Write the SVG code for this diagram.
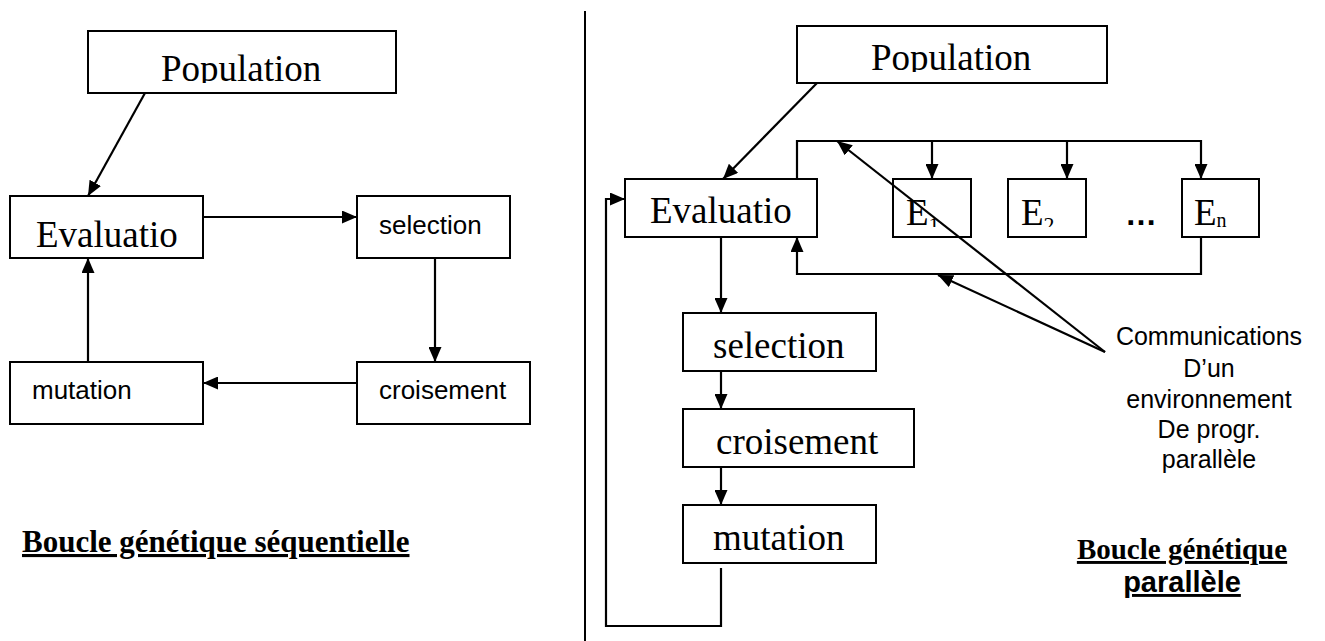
<svg xmlns="http://www.w3.org/2000/svg" width="1325" height="641" viewBox="0 0 1325 641">
  <defs>
    <marker id="arrow" viewBox="0 0 15 13" refX="15" refY="6.5" markerWidth="15" markerHeight="13" markerUnits="userSpaceOnUse" orient="auto">
      <path d="M0,0 L15,6.5 L0,13 Z" fill="#000"/>
    </marker>
    <clipPath id="clipPopL"><rect x="88" y="31" width="308" height="52"/></clipPath>
    <clipPath id="clipPopR"><rect x="797" y="26" width="310" height="46"/></clipPath>
    <clipPath id="clipE"><rect x="0" y="179" width="1325" height="48"/></clipPath>
    <style>
      .box { fill: #fff; stroke: #000; stroke-width: 2; }
      .wire { fill: none; stroke: #000; stroke-width: 2.2; }
      .serif { font-family: "Liberation Serif", "Times New Roman", serif; fill: #000; }
      .sans { font-family: "Liberation Sans", Arial, sans-serif; fill: #000; }
      .big { font-size: 37px; }
      .mid { font-size: 26px; }
      .note { font-size: 25px; text-anchor: middle; }
      .title { font-weight: bold; text-decoration: underline; }
    </style>
  </defs>
  <rect width="1325" height="641" fill="#fff"/>

  <!-- separator between the two loops -->
  <line x1="585" y1="11" x2="585" y2="641" stroke="#000" stroke-width="2"/>

  <!-- ===== sequential loop ===== -->
  <g id="seq-population">
    <rect class="box" x="88" y="31" width="308" height="62"/>
    <text class="serif big" x="161" y="81" clip-path="url(#clipPopL)">Population</text>
  </g>
  <g id="seq-evaluation">
    <rect class="box" x="10" y="196" width="193" height="62"/>
    <text class="serif big" x="36" y="247">Evaluatio</text>
  </g>
  <g id="seq-selection">
    <rect class="box" x="357" y="196" width="153" height="62"/>
    <text class="sans mid" x="379" y="234">selection</text>
  </g>
  <g id="seq-croisement">
    <rect class="box" x="357" y="362" width="173" height="62"/>
    <text class="sans mid" x="379" y="399">croisement</text>
  </g>
  <g id="seq-mutation">
    <rect class="box" x="10" y="362" width="193" height="62"/>
    <text class="sans mid" x="32" y="399">mutation</text>
  </g>
  <g id="seq-title">
    <text class="serif title" x="22" y="552" font-size="31">Boucle génétique séquentielle</text>
  </g>

  <!-- ===== parallel loop ===== -->
  <g id="par-population">
    <rect class="box" x="797" y="26" width="310" height="57"/>
    <text class="serif big" x="871" y="70" clip-path="url(#clipPopR)">Population</text>
  </g>
  <g id="par-evaluation">
    <rect class="box" x="625" y="179" width="192" height="58"/>
    <text class="serif big" x="650" y="223">Evaluatio</text>
  </g>
  <g id="par-e1">
    <rect class="box" x="893" y="179" width="78" height="58"/>
    <text class="serif big" x="906" y="225" clip-path="url(#clipE)">E<tspan font-size="22" dy="7">1</tspan></text>
  </g>
  <g id="par-e2">
    <rect class="box" x="1008" y="179" width="78" height="58"/>
    <text class="serif big" x="1021" y="225" clip-path="url(#clipE)">E<tspan font-size="22" dy="7">2</tspan></text>
  </g>
  <g id="par-dots">
    <text class="sans" x="1125" y="225" font-size="32" font-weight="bold">…</text>
  </g>
  <g id="par-en">
    <rect class="box" x="1182" y="179" width="77" height="58"/>
    <text class="serif big" x="1194" y="225" clip-path="url(#clipE)">E<tspan font-size="20" dy="2">n</tspan></text>
  </g>
  <g id="par-selection">
    <rect class="box" x="683" y="313" width="193" height="58"/>
    <text class="serif big" x="713" y="358">selection</text>
  </g>
  <g id="par-croisement">
    <rect class="box" x="683" y="409" width="231" height="58"/>
    <text class="serif big" x="716" y="454">croisement</text>
  </g>
  <g id="par-mutation">
    <rect class="box" x="683" y="505" width="193" height="58"/>
    <text class="serif big" x="713" y="550">mutation</text>
  </g>
  <g id="par-note">
    <text class="sans note" x="1209" y="345">Communications</text>
    <text class="sans note" x="1209" y="377">D’un</text>
    <text class="sans note" x="1209" y="408">environnement</text>
    <text class="sans note" x="1209" y="438">De progr.</text>
    <text class="sans note" x="1209" y="468">parallèle</text>
  </g>
  <g id="par-title">
    <text class="serif title" x="1182" y="559" font-size="29" text-anchor="middle">Boucle génétique</text>
    <text class="sans title" x="1182" y="592" font-size="29" text-anchor="middle">parallèle</text>
  </g>

  <!-- ===== connectors ===== -->
  <g id="connectors">
    <!-- sequential -->
    <line class="wire" x1="145" y1="93" x2="88" y2="196" marker-end="url(#arrow)"/>
    <line class="wire" x1="203" y1="217" x2="357" y2="217" marker-end="url(#arrow)"/>
    <line class="wire" x1="435" y1="258" x2="435" y2="362" marker-end="url(#arrow)"/>
    <line class="wire" x1="357" y1="383" x2="203" y2="383" marker-end="url(#arrow)"/>
    <line class="wire" x1="88" y1="362" x2="88" y2="258" marker-end="url(#arrow)"/>

    <!-- parallel -->
    <line class="wire" x1="817" y1="83" x2="723" y2="179" marker-end="url(#arrow)"/>
    <polyline class="wire" points="797,179 797,141 1201,141 1201,179" marker-end="url(#arrow)"/>
    <line class="wire" x1="932" y1="141" x2="932" y2="179" marker-end="url(#arrow)"/>
    <line class="wire" x1="1067" y1="141" x2="1067" y2="179" marker-end="url(#arrow)"/>
    <polyline class="wire" points="1201,237 1201,274 797,274 797,237" marker-end="url(#arrow)"/>
    <line class="wire" x1="721" y1="237" x2="721" y2="313" marker-end="url(#arrow)"/>
    <line class="wire" x1="721" y1="371" x2="721" y2="409" marker-end="url(#arrow)"/>
    <line class="wire" x1="721" y1="467" x2="721" y2="505" marker-end="url(#arrow)"/>
    <polyline class="wire" points="721,568 721,626 606,626 606,199 625,199" marker-end="url(#arrow)"/>

    <!-- communication pointers -->
    <line class="wire" x1="1105" y1="352" x2="837" y2="141" marker-end="url(#arrow)"/>
    <line class="wire" x1="1105" y1="352" x2="938" y2="275" marker-end="url(#arrow)"/>
  </g>
</svg>
